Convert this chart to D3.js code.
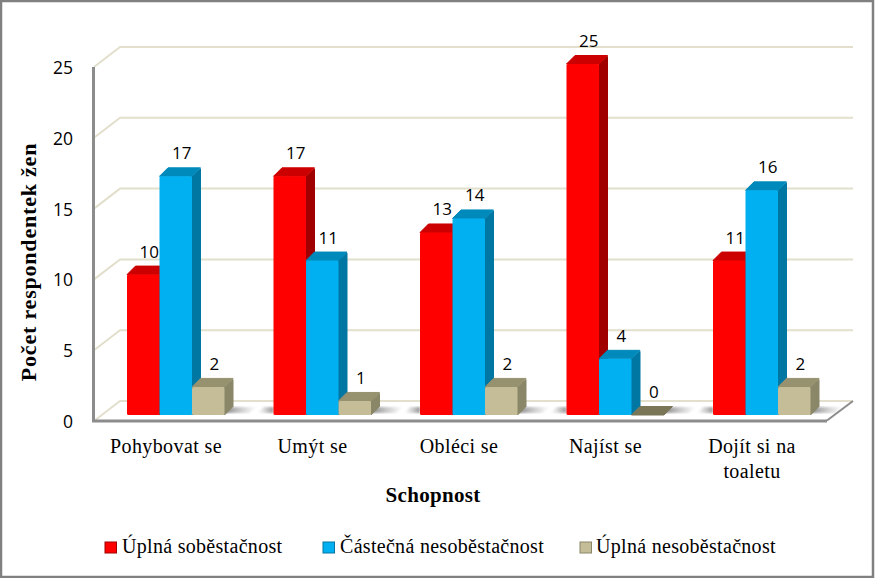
<!DOCTYPE html>
<html>
<head>
<meta charset="utf-8">
<script src="https://cdn.jsdelivr.net/npm/d3@7"></script>
<style>
  html, body { margin: 0; padding: 0; background: #fff; }
  svg { display: block; }
</style>
</head>
<body>
<div id="chart"></div>
<script>
const categories = [["Pohybovat se"], ["Umýt se"], ["Obléci se"], ["Najíst se"], ["Dojít si na", "toaletu"]];
const seriesNames = ["Úplná soběstačnost", "Částečná nesoběstačnost", "Úplná nesoběstačnost"];
const uplnaSob = [10, 17, 13, 25, 11];
const castecna = [17, 11, 14, 4, 16];
const uplnaNesob = [2, 1, 2, 0, 2];
const yTicks = [0, 5, 10, 15, 20, 25];

const width = 875;
const height = 578;
const seriesValues = [uplnaSob, castecna, uplnaNesob];
const front = ["#ff0000", "#00b0f0", "#c4bd97"];
const side = ["#a00000", "#0076a3", "#8a8668"];
const top_ = ["#cc0000", "#0089bb", "#96926f"];

const svg = d3.select("#chart").append("svg")
  .attr("width", width)
  .attr("height", height)
  .attr("viewBox", [0, 0, width, height]);

const defs = svg.append("defs");
const shadow = defs.append("linearGradient").attr("id", "floorShadow");
shadow.append("stop").attr("offset", "0%").attr("stop-color", "#666").attr("stop-opacity", 0.85);
shadow.append("stop").attr("offset", "100%").attr("stop-color", "#999").attr("stop-opacity", 0);
const shadowL = defs.append("linearGradient").attr("id", "floorShadowL");
shadowL.append("stop").attr("offset", "0%").attr("stop-color", "#999").attr("stop-opacity", 0);
shadowL.append("stop").attr("offset", "100%").attr("stop-color", "#666").attr("stop-opacity", 0.7);
defs.append("filter").attr("id", "soft")
  .append("feGaussianBlur").attr("stdDeviation", 0.8);

// chart frame
svg.append("rect")
  .attr("x", 1).attr("y", 1)
  .attr("width", 872).attr("height", 576)
  .attr("fill", "#fff").attr("stroke", "#808080").attr("stroke-width", 2.5);

// the axis line runs on the front plane, bars stand a bit behind it
const axisY = d3.scaleLinear().domain([0, 25]).range([421, 67]);
const gridY = d3.scaleLinear().domain([0, 25]).range([401, 47]);
const barY = d3.scaleLinear().domain([0, 25]).range([415, 64]);
const x0 = d3.scaleBand().domain(d3.range(5)).range([127, 127 + 146.5 * 5]);
const groupLeft = i => x0(i);
const x1 = d3.scaleBand().domain(d3.range(3)).range([0, 97.5]);
const depth = 8.5;

const wall = svg.append("g");
wall.selectAll("path.grid").data(yTicks).join("path")
  .attr("fill", "none")
  .attr("stroke", "#e2dfcc")
  .attr("stroke-width", 2)
  .attr("d", d => `M${94},${axisY(d)}L120,${gridY(d)}L853,${gridY(d)}`);

// floor front and right edges
svg.append("path")
  .attr("fill", "none").attr("stroke", "#8c8c8c").attr("stroke-width", 2)
  .attr("d", `M827,${axisY(0) - 0.5}L853,${gridY(0)}`);
svg.append("path")
  .attr("fill", "none").attr("stroke", "#8c8c8c").attr("stroke-width", 3)
  .attr("d", `M93.5,${axisY(25)}V${axisY(0)}H827`);

// floor shadows either side of each group
const shadows = svg.append("g").attr("filter", "url(#soft)");
d3.range(5).forEach(i => {
  const left = groupLeft(i);
  if (i > 0) shadows.append("path")
    .attr("fill", "url(#floorShadowL)")
    .attr("d", `M${left - 16},413L${left},413L${left},407L${left - 10},407Z`);
  shadows.append("path")
    .attr("fill", "url(#floorShadow)")
    .attr("d", `M${left + 96},413L${left + 122},413L${left + 130},407L${left + 100},407Z`);
});

// bars, side and top faces drawn before the front of the next one
const groups = svg.append("g").selectAll("g").data(d3.range(5)).join("g");
groups.each(function (i) {
  const g = d3.select(this);
  d3.range(3).forEach(s => {
    const v = seriesValues[s][i];
    const bx = groupLeft(i) + x1(s);
    const bw = x1.bandwidth();
    const y = barY(v);
    const y0 = barY(0);
    const topFill = v > 0 ? top_[s] : "#7a7658";
    if (v > 0) {
      g.append("path").attr("fill", side[s]).attr("stroke", side[s])
        .attr("stroke-linejoin", "round")
        .attr("d", `M${bx + bw},${y}L${bx + bw + depth},${y - depth + 1}V${y0 - depth}L${bx + bw},${y0}Z`);
    }
    g.append("path").attr("fill", topFill).attr("stroke", topFill)
      .attr("stroke-linejoin", "round")
      .attr("d", `M${bx},${y}L${bx + depth},${y - depth}H${bx + bw + depth}L${bx + bw},${y}Z`);
    if (v > 0) {
      g.append("rect").attr("fill", front[s])
        .attr("x", bx).attr("y", y).attr("width", bw).attr("height", y0 - y).attr("rx", 1.5);
    }
  });
});

// value labels
const labels = svg.append("g")
  .attr("font-family", "'Open Sans', sans-serif")
  .attr("font-size", 17)
  .attr("fill", "#000")
  .attr("text-anchor", "middle");
d3.range(5).forEach(i => {
  d3.range(3).forEach(s => {
    const v = seriesValues[s][i];
    labels.append("text")
      .attr("x", groupLeft(i) + x1(s) + x1.bandwidth() / 2 + 6)
      .attr("y", barY(v) - 17)
      .text(v);
  });
});

// y tick labels
svg.append("g")
  .attr("font-family", "'Open Sans', sans-serif")
  .attr("font-size", 17.5)
  .attr("text-anchor", "end")
  .selectAll("text").data(yTicks).join("text")
  .attr("x", 73)
  .attr("y", d => axisY(d) + 7)
  .text(d => d);

// category labels
const catG = svg.append("g")
  .attr("font-family", "'Liberation Serif', serif")
  .attr("font-size", 20)
  .attr("letter-spacing", 0.4)
  .attr("text-anchor", "middle");
categories.forEach((lines, i) => {
  lines.forEach((line, k) => {
    catG.append("text")
      .attr("x", groupLeft(i) + 39)
      .attr("y", 453 + k * 24.5)
      .text(line);
  });
});

// axis titles
svg.append("text")
  .attr("x", 433).attr("y", 502)
  .attr("text-anchor", "middle")
  .attr("font-family", "'Liberation Serif', serif")
  .attr("font-weight", "bold")
  .attr("font-size", 21)
  .attr("letter-spacing", 0.3)
  .text("Schopnost");
svg.append("text")
  .attr("transform", "translate(36,262) rotate(-90)")
  .attr("text-anchor", "middle")
  .attr("font-family", "'Liberation Serif', serif")
  .attr("font-weight", "bold")
  .attr("font-size", 22)
  .attr("letter-spacing", 0.8)
  .text("Počet respondentek žen");

// legend
const legendSwatch = [105, 323, 580];
const legendText = [122, 340, 596];
const legend = svg.append("g");
seriesNames.forEach((name, s) => {
  legend.append("rect")
    .attr("x", legendSwatch[s]).attr("y", 542)
    .attr("width", 11.5).attr("height", 11)
    .attr("fill", front[s]).attr("stroke", side[s]).attr("stroke-width", 1);
  legend.append("text")
    .attr("x", legendText[s]).attr("y", 553)
    .attr("font-family", "'Liberation Serif', serif")
    .attr("font-size", 20)
    .attr("letter-spacing", 0.3)
    .text(name);
});
</script>
</body>
</html>
